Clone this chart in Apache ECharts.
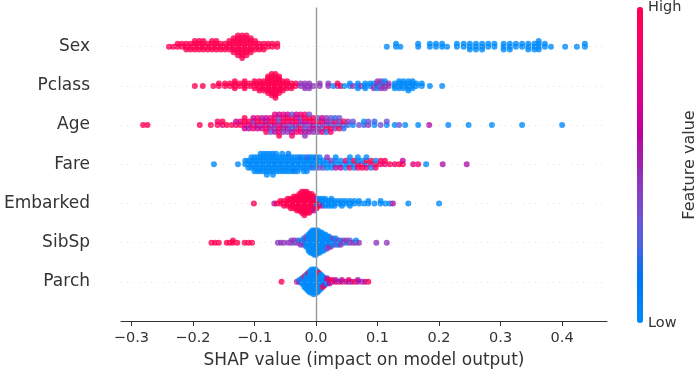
<!DOCTYPE html>
<html>
<head>
<meta charset="utf-8">
<script src="https://cdn.jsdelivr.net/npm/echarts@6/dist/echarts.min.js"></script>
<style>
  html, body { margin: 0; padding: 0; background: #fff; }
  #chart { width: 698px; height: 374px; }
</style>
</head>
<body>
<div id="chart"></div>
<script>
// feature names, top row first
var features = ['Sex', 'Pclass', 'Age', 'Fare', 'Embarked', 'SibSp', 'Parch'];
var xTicks = [-0.3, -0.2, -0.1, 0.0, 0.1, 0.2, 0.3, 0.4];

// each entry: [shap value, feature value of every point at that spot, 0 = low .. 9 = high]
var sexPts = [
  [-0.239,'9'],[-0.232,'9'],[-0.225,'99'],[-0.218,'99'],[-0.211,'999'],[-0.204,'999'],
  [-0.197,'9999'],[-0.190,'9999'],[-0.183,'9999'],[-0.176,'999'],[-0.169,'9999'],
  [-0.162,'9999'],[-0.155,'999'],[-0.148,'999'],[-0.141,'9999'],[-0.134,'999999'],
  [-0.127,'99999999'],[-0.120,'999999999'],[-0.113,'99999999'],[-0.106,'999999'],[-0.099,'9999'],
  [-0.092,'999'],[-0.085,'999'],[-0.078,'99'],[-0.071,'99'],[-0.063,'99'],
  [0.115,'0'],[0.130,'00'],[0.137,'0'],[0.166,'00'],[0.185,'00'],[0.195,'00'],[0.205,'00'],
  [0.213,'0'],[0.229,'00'],[0.240,'00'],[0.250,'000'],[0.260,'000'],[0.270,'000'],
  [0.280,'00'],[0.290,'00'],[0.305,'000'],[0.315,'000'],[0.325,'00'],[0.335,'00'],
  [0.345,'000'],[0.355,'000'],[0.362,'0000'],[0.372,'00'],[0.382,'0'],[0.405,'0'],
  [0.424,'0'],[0.437,'00']
];
var pclassPts = [
  [-0.197,'9'],[-0.184,'9'],[-0.167,'9'],[-0.158,'99'],[-0.148,'99'],[-0.140,'99'],
  [-0.132,'9999'],[-0.124,'99'],[-0.116,'9999'],[-0.108,'99'],[-0.100,'9999'],[-0.092,'99999'],
  [-0.085,'99999'],[-0.078,'99999999'],[-0.072,'9999999999'],[-0.066,'99999999999'],
  [-0.060,'99999999'],[-0.054,'99999'],[-0.047,'9999'],[-0.040,'999'],[-0.033,'99'],
  [-0.025,'44'],[-0.018,'444'],[-0.011,'444'],[-0.004,'4'],[0.006,'44'],[0.020,'44'],
  [0.028,'0'],[0.035,'49'],[0.040,'9'],[0.046,'0'],[0.055,'00'],[0.060,'4'],[0.068,'000'],
  [0.074,'4'],[0.080,'000'],[0.088,'00'],[0.094,'404'],[0.100,'4404'],[0.106,'4044'],
  [0.112,'4440'],[0.118,'44'],[0.128,'000'],[0.135,'0000'],[0.142,'0000'],
  [0.150,'00000'],[0.157,'0000'],[0.163,'00'],[0.172,'00'],[0.185,'0'],[0.205,'0']
];
var agePts = [
  [-0.281,'9'],[-0.274,'9'],[-0.189,'9'],[-0.171,'9'],[-0.160,'98'],[-0.152,'79'],
  [-0.145,'9'],[-0.137,'9'],[-0.130,'86'],[-0.123,'97'],[-0.116,'8969'],[-0.109,'695'],
  [-0.102,'7486'],[-0.095,'5968'],[-0.088,'4965'],[-0.081,'75869'],[-0.074,'49573'],
  [-0.067,'694857'],[-0.060,'5493769'],[-0.053,'695847'],[-0.046,'385946'],
  [-0.039,'4729538'],[-0.032,'594786'],[-0.025,'359477'],[-0.018,'4639584'],
  [-0.011,'374953'],[-0.004,'58694'],[0.003,'29534'],[0.010,'48367'],[0.017,'35942'],
  [0.024,'24938'],[0.031,'3842'],[0.038,'2493'],[0.045,'392'],[0.052,'24'],[0.060,'03'],
  [0.070,'3'],[0.078,'20'],[0.085,'43'],[0.095,'02'],[0.105,'3'],[0.115,'03'],[0.128,'0'],
  [0.135,'3'],[0.145,'0'],[0.166,'0'],[0.184,'5'],[0.215,'0'],[0.248,'0'],[0.286,'0'],
  [0.335,'0'],[0.400,'0']
];
var farePts = [
  [-0.166,'0'],[-0.127,'0'],[-0.115,'00'],[-0.110,'000'],[-0.105,'0000'],[-0.100,'00000'],
  [-0.095,'00000'],[-0.090,'000000'],[-0.085,'000000'],[-0.080,'0000000'],[-0.075,'000000'],
  [-0.070,'0000000'],[-0.065,'000000'],[-0.060,'00000'],[-0.055,'000000'],[-0.050,'00000'],
  [-0.045,'000001'],[-0.040,'00000'],[-0.035,'00001'],[-0.030,'00000'],[-0.025,'0001'],
  [-0.020,'00000'],[-0.015,'00020'],[-0.010,'0001'],[-0.005,'0020'],[0.000,'0001'],
  [0.006,'0030'],[0.012,'003'],[0.018,'0004'],[0.025,'040'],[0.032,'0050'],[0.040,'006'],
  [0.048,'070'],[0.055,'0080'],[0.062,'090'],[0.068,'9080'],[0.075,'809'],[0.082,'0970'],
  [0.090,'890'],[0.097,'908'],[0.105,'98'],[0.112,'79'],[0.120,'9'],[0.128,'8'],[0.135,'9'],
  [0.141,'96'],[0.158,'7'],[0.166,'8'],[0.179,'0'],[0.206,'5'],[0.245,'5']
];
var embarkedPts = [
  [-0.101,'9'],[-0.068,'5'],[-0.064,'9'],[-0.058,'99'],[-0.052,'999'],[-0.046,'9999'],
  [-0.041,'99999'],[-0.036,'999999'],[-0.031,'9999999'],[-0.027,'99999999'],
  [-0.023,'9999999999'],[-0.019,'99999999999'],[-0.015,'9999999999'],[-0.011,'999999999'],
  [-0.007,'99999999'],[-0.003,'9999995'],[0.001,'99059'],[0.005,'0990'],[0.010,'0050'],
  [0.015,'0000'],[0.020,'000'],[0.025,'0000'],[0.030,'000'],[0.036,'00'],[0.042,'000'],
  [0.048,'00'],[0.055,'000'],[0.062,'00'],[0.070,'00'],[0.078,'0'],[0.085,'00'],[0.095,'0'],
  [0.105,'00'],[0.113,'0'],[0.120,'0'],[0.125,'5'],[0.150,'0'],[0.200,'0']
];
var sibspPts = [
  [-0.170,'9'],[-0.164,'9'],[-0.158,'9'],[-0.145,'9'],[-0.140,'9'],[-0.135,'99'],
  [-0.128,'9'],[-0.116,'9'],[-0.110,'9'],[-0.104,'9'],
  [-0.062,'4'],[-0.057,'4'],[-0.052,'4'],[-0.045,'4'],[-0.040,'44'],[-0.035,'34'],
  [-0.030,'43'],[-0.025,'304'],[-0.020,'0340'],[-0.016,'000403'],[-0.012,'000000000'],
  [-0.009,'00000000000'],[-0.006,'000000000000'],[-0.003,'0000000000000'],
  [0.000,'0000000000000'],[0.003,'000000000000'],[0.006,'00000000000'],[0.009,'0000000000'],
  [0.012,'000000000'],[0.015,'00000000'],[0.018,'0000003'],[0.021,'000040'],[0.024,'00004'],
  [0.028,'0004'],[0.032,'0030'],[0.036,'040'],[0.040,'004'],[0.045,'34'],[0.050,'04'],
  [0.055,'43'],[0.060,'4'],[0.065,'40'],[0.070,'4'],[0.098,'4'],[0.115,'4']
];
var parchPts = [
  [-0.056,'9'],[-0.031,'5'],[-0.027,'50'],[-0.023,'0500'],[-0.019,'0000090'],
  [-0.016,'000000000'],[-0.013,'00000000090'],[-0.010,'0000000000000'],
  [-0.007,'00000000000000'],[-0.004,'000000000000000'],[-0.001,'00000000000000'],
  [0.002,'0000000000000'],[0.005,'00000000090'],[0.008,'000000000'],[0.011,'0000009'],
  [0.014,'00005'],[0.018,'0505'],[0.022,'595'],[0.027,'59'],[0.032,'95'],[0.037,'5'],
  [0.042,'95'],[0.048,'5'],[0.053,'59'],[0.058,'5'],[0.063,'9'],[0.068,'55'],[0.075,'5'],
  [0.080,'5'],[0.085,'9']
];
var rows = [sexPts, pclassPts, agePts, farePts, embarkedPts, sibspPts, parchPts];

// shap's red_blue colormap (LCH blend from blue to red)
function lch2hex(l, c, h) {
  var a = c * Math.cos(h), b = c * Math.sin(h);
  var fy = (l + 16) / 116, fx = fy + a / 500, fz = fy - b / 200;
  function finv(t) { return t > 6 / 29 ? t * t * t : 3 * (6 / 29) * (6 / 29) * (t - 4 / 29); }
  var X = 0.95047 * finv(fx), Y = finv(fy), Z = 1.08883 * finv(fz);
  var rgb = [
    3.2406 * X - 1.5372 * Y - 0.4986 * Z,
    -0.9689 * X + 1.8758 * Y + 0.0415 * Z,
    0.0557 * X - 0.2040 * Y + 1.0570 * Z
  ].map(function (v) {
    v = v > 0.0031308 ? 1.055 * Math.pow(v, 1 / 2.4) - 0.055 : 12.92 * v;
    v = Math.round(Math.max(0, Math.min(1, v)) * 255);
    return ('0' + v.toString(16)).slice(-2);
  });
  return '#' + rgb.join('');
}
var cmap = [];
for (var k = 0; k <= 20; k++) {
  var p = k / 20;
  var L = p < 0.5 ? 54 - 28 * p : 40 + 28 * (p - 0.5);
  cmap.push(lch2hex(L, 70 + 20 * p, 4.6588 + (0.35470565 + 2 * Math.PI - 4.6588) * p));
}

// beeswarm offsets, same binning as shap's summary plot
function swarm(xs) {
  var lo = Math.min.apply(null, xs), hi = Math.max.apply(null, xs);
  var quant = xs.map(function (v) { return Math.round(100 * (v - lo) / (hi - lo + 1e-8)); });
  var inds = xs.map(function (v, i) { return i; });
  inds.sort(function (a, b) { return quant[a] - quant[b] || a - b; });
  var ys = xs.map(function () { return 0; });
  var layer = 0, last = -1;
  inds.forEach(function (i) {
    if (quant[i] !== last) layer = 0;
    ys[i] = Math.ceil(layer / 2) * ((layer % 2) * 2 - 1);
    layer++;
    last = quant[i];
  });
  var top = Math.max.apply(null, ys.map(function (y) { return y + 1; }));
  return ys.map(function (y) { return y * 0.9 * 0.4 / top; });
}

var series = [{
  type: 'scatter', data: [], z: 1, silent: true,
  markLine: {
    silent: true, symbol: 'none', label: { show: false }, animation: false,
    data: [0, 1, 2, 3, 4, 5, 6].map(function (r) {
      return { yAxis: r, lineStyle: { color: '#cccccc', width: 0.6, type: [1, 5] } };
    }).concat([{ xAxis: 0, lineStyle: { color: '#999999', width: 1.4, type: 'solid' } }])
  }
}];
rows.forEach(function (pts, i) {
  var xs = [], cs = [];
  pts.forEach(function (g) {
    g[1].split('').forEach(function (d) { xs.push(g[0]); cs.push(+d); });
  });
  var ys = swarm(xs);
  var pos = features.length - 1 - i;
  series.push({
    type: 'scatter', name: features[i], z: 3, symbolSize: 6,
    data: xs.map(function (x, j) { return [x, pos + ys[j], cs[j]]; })
  });
});

var chart = echarts.init(document.getElementById('chart'));
chart.setOption({
  animation: false,
  textStyle: { fontFamily: 'DejaVu Sans' },
  grid: { left: 121, right: 91, top: 7.5, bottom: 49.5 },
  xAxis: {
    type: 'value', min: -0.317, max: 0.473,
    name: 'SHAP value (impact on model output)', nameLocation: 'middle', nameGap: 31,
    nameTextStyle: { fontSize: 17, color: '#333333' },
    axisLine: { onZero: false, lineStyle: { color: '#333333', width: 1 } },
    axisTick: { show: true, length: 5, customValues: xTicks, lineStyle: { color: '#333333' } },
    axisLabel: {
      customValues: xTicks, fontSize: 14.5, color: '#333333', margin: 10,
      formatter: function (v) { return v.toFixed(1).replace('-', '\u2212'); }
    },
    splitLine: { show: false }
  },
  yAxis: {
    type: 'value', min: -1, max: 7,
    axisLine: { show: false }, axisTick: { show: false }, splitLine: { show: false },
    axisLabel: {
      customValues: [0, 1, 2, 3, 4, 5, 6], fontSize: 17, color: '#333333', margin: 31,
      formatter: function (v) { return features[features.length - 1 - v]; }
    }
  },
  visualMap: {
    type: 'continuous', min: 0, max: 9, dimension: 2, seriesIndex: [1, 2, 3, 4, 5, 6, 7],
    inRange: { color: cmap }, calculable: false, hoverLink: false,
    left: 637, top: 7, itemWidth: 6, itemHeight: 316, padding: 0, text: null
  },
  graphic: [
    { type: 'text', left: 648, top: 0, style: { text: 'High', fontSize: 14.5, fill: '#333333', fontFamily: 'DejaVu Sans' } },
    { type: 'text', left: 648, top: 316, style: { text: 'Low', fontSize: 14.5, fill: '#333333', fontFamily: 'DejaVu Sans' } },
    { type: 'text', x: 690, y: 165, rotation: Math.PI / 2,
      style: { text: 'Feature value', fontSize: 16, fill: '#333333', fontFamily: 'DejaVu Sans', align: 'center', verticalAlign: 'middle' } }
  ],
  series: series
});
</script>
</body>
</html>
